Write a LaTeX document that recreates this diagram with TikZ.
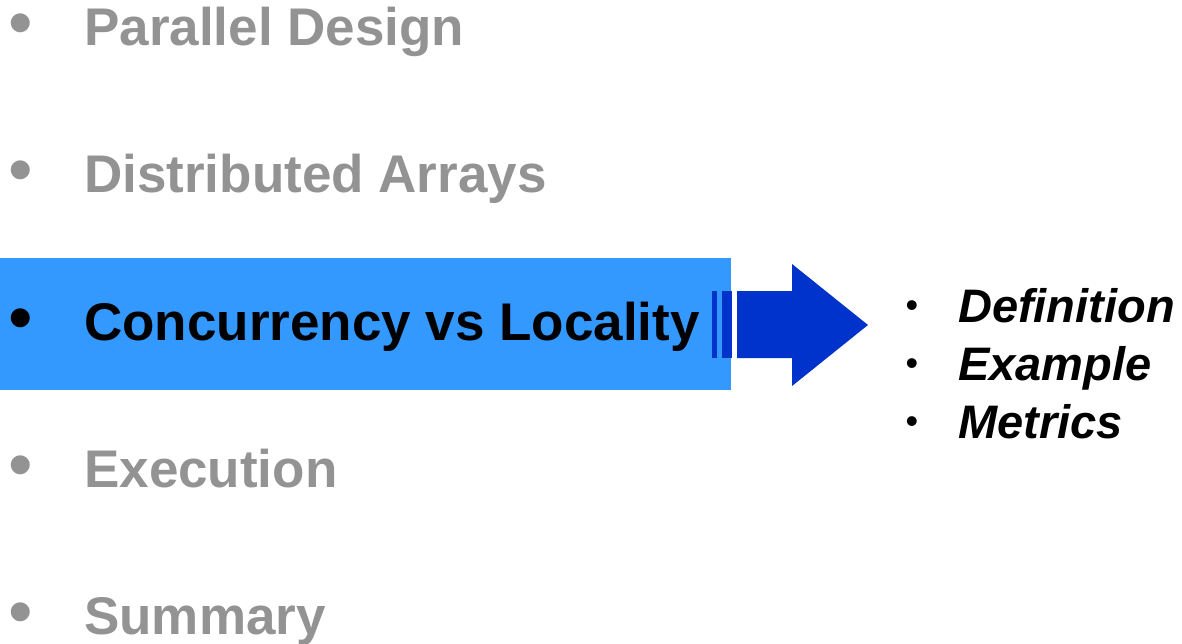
\documentclass[tikz,border=0pt]{standalone}
\usepackage{fontspec}
\setmainfont{Liberation Sans}
\definecolor{dimgray}{HTML}{939393}
\definecolor{hilite}{HTML}{3399FF}
\definecolor{arrowblue}{HTML}{0033CC}
\begin{document}
\begin{tikzpicture}[x=1pt,y=-1pt,
  item/.style={anchor=base west,inner sep=0pt,font=\bfseries\fontsize{53}{60}\selectfont},
  dot/.style={anchor=base,inner sep=0pt,font=\fontsize{70}{76}\selectfont},
  subitem/.style={anchor=base west,inner sep=0pt,font=\bfseries\itshape\fontsize{47}{54}\selectfont},
  subdot/.style={anchor=base,inner sep=0pt,font=\fontsize{36}{40}\selectfont}]
\useasboundingbox (0,0) rectangle (1182,644);
% highlight band behind the current topic
\fill[hilite] (0,258) rectangle (731,390);
% block arrow with two lead-in bars
\fill[arrowblue] (712,291) rectangle (717,358);
\fill[arrowblue] (722,291) rectangle (732,358);
\fill[arrowblue] (737,291) -- (792,291) -- (792,264) -- (868,325) -- (792,386) -- (792,358) -- (737,358) -- cycle;
% outline
\node[dot,text=dimgray] (b1) at (21,47) {•};
\node[item,text=dimgray] (t1) at (84,46) {Parallel Design};
\node[dot,text=dimgray] (b2) at (21,194) {•};
\node[item,text=dimgray] (t2) at (84,193) {Distributed Arrays};
\node[dot,text=black] (b3) at (21,341) {•};
\node[item,text=black] (t3) at (84,340) {Concurrency vs Locality};
\node[dot,text=dimgray] (b4) at (21,488) {•};
\node[item,text=dimgray] (t4) at (84,487) {Execution};
\node[dot,text=dimgray] (b5) at (21,635) {•};
\node[item,text=dimgray] (t5) at (84,634) {Summary};
% sub-topics
\node[subdot] (s1) at (912,317) {•};
\node[subitem] (d1) at (958,322) {Definition};
\node[subdot] (s2) at (912,375) {•};
\node[subitem] (d2) at (958,380) {Example};
\node[subdot] (s3) at (912,433) {•};
\node[subitem] (d3) at (958,438) {Metrics};
\end{tikzpicture}
\end{document}
